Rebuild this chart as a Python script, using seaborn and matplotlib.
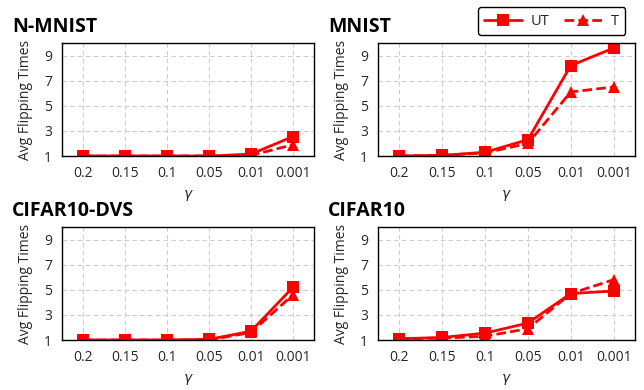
import matplotlib
matplotlib.use("Agg")
import matplotlib.pyplot as plt
import pandas as pd
import seaborn as sns

gammas = ["0.2", "0.15", "0.1", "0.05", "0.01", "0.001"]
panels = ["N-MNIST", "MNIST", "CIFAR10-DVS", "CIFAR10"]

ut_vals = {
    "N-MNIST": [1.0, 1.0, 1.0, 1.0, 1.15, 2.55],
    "MNIST": [1.0, 1.05, 1.3, 2.3, 8.2, 9.6],
    "CIFAR10-DVS": [1.0, 1.0, 1.0, 1.05, 1.7, 5.2],
    "CIFAR10": [1.1, 1.2, 1.55, 2.35, 4.7, 4.9],
}
t_vals = {
    "N-MNIST": [1.0, 1.0, 1.0, 1.0, 1.05, 1.9],
    "MNIST": [1.0, 1.05, 1.25, 2.0, 6.1, 6.5],
    "CIFAR10-DVS": [1.0, 1.0, 1.0, 1.0, 1.6, 4.6],
    "CIFAR10": [1.1, 1.15, 1.3, 1.9, 4.7, 5.8],
}

sns.set_theme(style="white")
plt.rcParams["font.family"] = ["Open Sans", "DejaVu Sans"]

fig = plt.figure(figsize=(6.44, 3.9), dpi=100)
W, H = 644, 390
# axes boxes in pixels: left, top, width, height
boxes = [(62, 43, 252, 113), (378, 43, 257, 113), (62, 227, 252, 113), (378, 227, 257, 113)]

for name, (x0, y0, w, h) in zip(panels, boxes):
    ax = fig.add_axes([x0 / W, 1 - (y0 + h) / H, w / W, h / H])
    df = pd.DataFrame({
        "pos": list(range(len(gammas))) * 2,
        "val": ut_vals[name] + t_vals[name],
        "kind": ["UT"] * len(gammas) + ["T"] * len(gammas),
    })
    sns.lineplot(data=df, x="pos", y="val", style="kind", style_order=["UT", "T"],
                 markers={"UT": "s", "T": "^"}, dashes={"UT": "", "T": (3.5, 1.5)},
                 color="#ff0000", linewidth=2, markersize=9, markeredgewidth=0,
                 sort=False, ax=ax, legend=(name == "MNIST"))
    ax.set_xlim(-0.5, 5.5)
    ax.set_ylim(1, 10)
    ax.set_xticks(range(len(gammas)), gammas)
    ax.set_yticks([1, 3, 5, 7, 9])
    ax.tick_params(axis="both", labelsize=10, length=0, pad=7)
    ax.grid(True, linestyle=(0, (4, 3)), color="#cccccc", linewidth=0.8)
    for sp in ax.spines.values():
        sp.set_color("black")
        sp.set_linewidth(1)
    ax.set_xlabel(r"$\gamma$", fontsize=10, labelpad=5)
    ax.set_ylabel("Avg Flipping Times", fontsize=10, labelpad=8)
    fig.text((x0 - 50) / W, 1 - (y0 - 16) / H, name, fontsize=14, fontweight="bold",
             ha="left", va="center", color="black")
    if name == "MNIST":
        leg = ax.legend(loc="lower right", bbox_to_anchor=(0.98, 1.03), ncol=2,
                        frameon=True, fontsize=10.5, handlelength=2.6, columnspacing=1.0,
                        borderpad=0.25, handletextpad=0.6)
        leg.get_frame().set_edgecolor("black")
        leg.get_frame().set_linewidth(1)
        leg.get_frame().set_boxstyle("round,pad=0.2")
        leg.get_frame().set_alpha(1)

fig.savefig("out.png", dpi=100)
